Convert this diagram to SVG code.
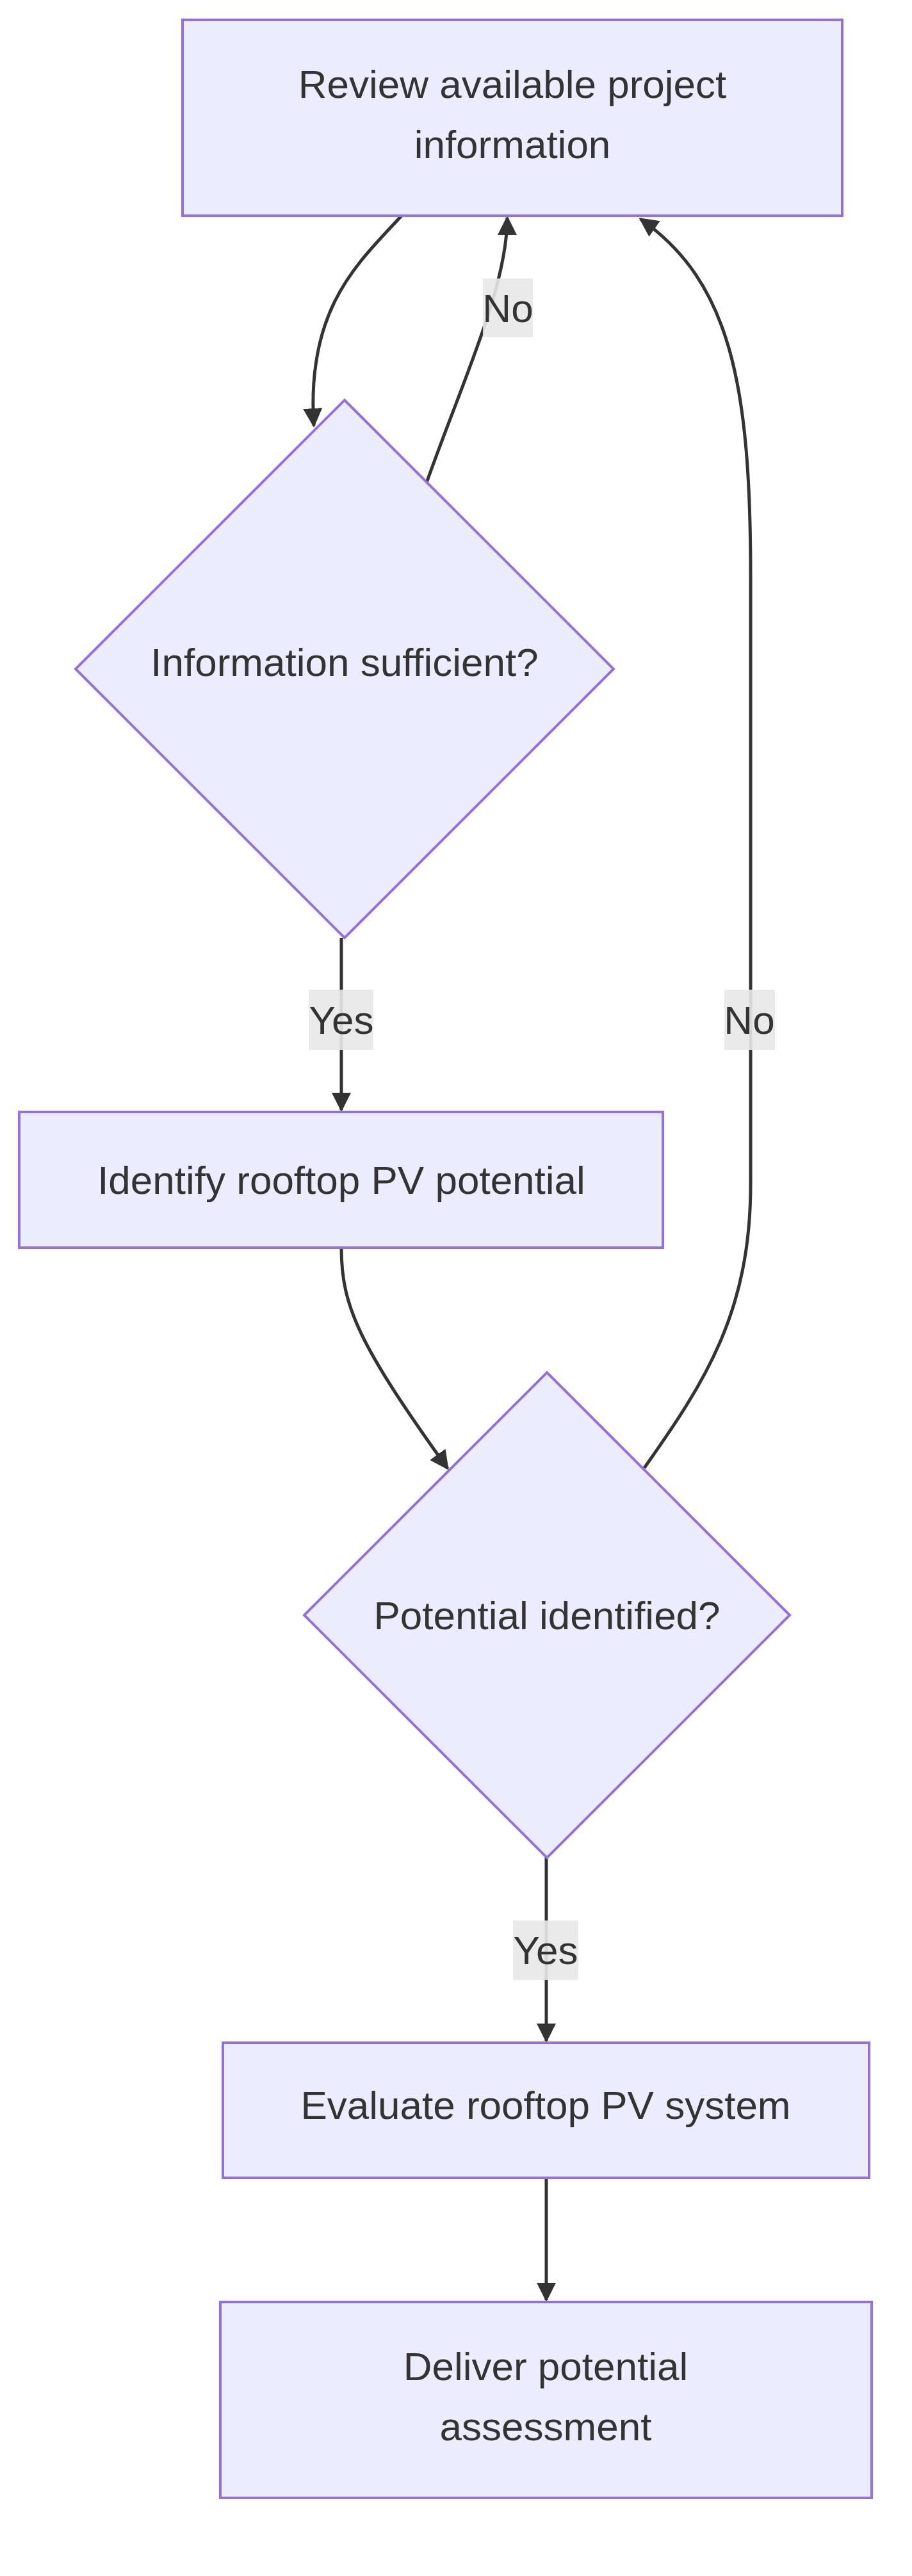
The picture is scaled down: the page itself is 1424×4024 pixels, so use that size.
<svg xmlns="http://www.w3.org/2000/svg" width="1424" height="4024" viewBox="0 0 1424 4024">
<style>
.n{fill:#ECECFF;stroke:#9370DB;stroke-width:4}
.t{font-family:"Liberation Sans",Arial,sans-serif;font-size:62px;fill:#333;text-anchor:middle}
.e{fill:none;stroke:#333;stroke-width:5}
.lb{fill:#e8e8e8;opacity:0.9}
</style>
<defs>
<marker id="ah" viewBox="0 0 10 10" refX="9" refY="5" markerWidth="6" markerHeight="6" markerUnits="strokeWidth" orient="auto"><path d="M0,0L10,5L0,10z" fill="#333"/></marker>
</defs>
<g id="edges">
<path class="e" d="M627,337 C560,410 478,480 490,665" marker-end="url(#ah)"/>
<path class="e" d="M665,757 C720,600 792,450 792,340" marker-end="url(#ah)"/>
<path class="e" d="M533,1465 L533,1734" marker-end="url(#ah)"/>
<path class="e" d="M533,1949 C533,2040 560,2100 699,2294" marker-end="url(#ah)"/>
<path class="e" d="M1006,2293 C1100,2160 1172,2050 1172,1850 L1172,900 C1172,600 1140,440 1000,342" marker-end="url(#ah)"/>
<path class="e" d="M853,2901 L853,3188" marker-end="url(#ah)"/>
<path class="e" d="M853,3402 L853,3593" marker-end="url(#ah)"/>
</g>
<g id="labels">
<rect class="lb" x="754" y="435" width="78" height="92"/><text class="t" x="793" y="503">No</text>
<rect class="lb" x="482" y="1546" width="101" height="94"/><text class="t" x="533" y="1615">Yes</text>
<rect class="lb" x="1131" y="1546" width="79" height="94"/><text class="t" x="1170" y="1615">No</text>
<rect class="lb" x="801" y="3000" width="102" height="93"/><text class="t" x="852" y="3068">Yes</text>
</g>
<g id="n1"><rect class="n" x="285" y="31" width="1030" height="306"/><text class="t" x="800" y="153">Review available project</text><text class="t" x="800" y="247">information</text></g>
<g id="n2"><path class="n" d="M538,625 L958,1045 L538,1465 L118,1045z"/><text class="t" x="538" y="1056">Information sufficient?</text></g>
<g id="n3"><rect class="n" x="30" y="1737" width="1005" height="212"/><text class="t" x="533" y="1865">Identify rooftop PV potential</text></g>
<g id="n4"><path class="n" d="M854,2144 L1233,2523 L854,2902 L475,2523z"/><text class="t" x="854" y="2545">Potential identified?</text></g>
<g id="n5"><rect class="n" x="348" y="3191" width="1009" height="211"/><text class="t" x="852" y="3310">Evaluate rooftop PV system</text></g>
<g id="n6"><rect class="n" x="344" y="3596" width="1017" height="306"/><text class="t" x="852" y="3718">Deliver potential</text><text class="t" x="852" y="3812">assessment</text></g>
</svg>
